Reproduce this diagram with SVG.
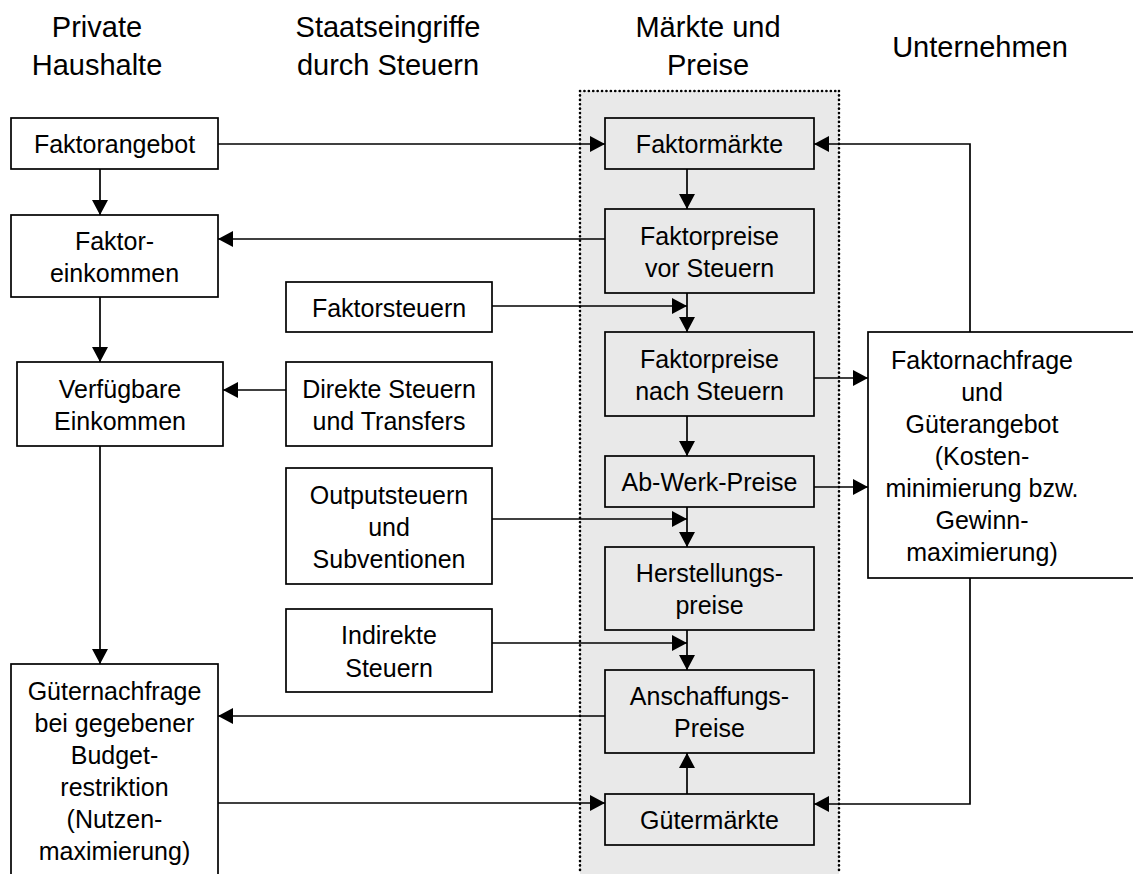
<svg xmlns="http://www.w3.org/2000/svg" width="1133" height="874" viewBox="0 0 1133 874">
<defs>
<marker id="ah" markerWidth="15" markerHeight="16" refX="15" refY="8" orient="auto" markerUnits="userSpaceOnUse">
<path d="M0,0 L15,8 L0,16 Z" fill="#000"/>
</marker>
<style>
.hd{font-family:"Liberation Sans",Arial,sans-serif;font-size:29px;fill:#000;text-anchor:middle}
.t{font-family:"Liberation Sans",Arial,sans-serif;font-size:25px;fill:#000;text-anchor:middle}
.b{fill:#fff;stroke:#000;stroke-width:1.7}
.m{fill:#e9e9e9;stroke:#000;stroke-width:1.7}
.c{fill:none;stroke:#000;stroke-width:1.7;marker-end:url(#ah)}
</style>
</defs>
<rect width="1133" height="874" fill="#fff"/>
<rect x="580" y="91" width="259" height="800" fill="#e9e9e9" stroke="none"/>
<path d="M580,91 H839 M580,91 V874 M839,91 V874" fill="none" stroke="#000" stroke-width="2.6" stroke-linecap="round" stroke-dasharray="0.1 4.3"/>
<g id="headers">
<text class="hd" x="97" y="37">Private</text>
<text class="hd" x="97" y="75">Haushalte</text>
<text class="hd" x="388" y="37">Staatseingriffe</text>
<text class="hd" x="388" y="75">durch Steuern</text>
<text class="hd" x="708" y="37">Märkte und</text>
<text class="hd" x="708" y="75">Preise</text>
<text class="hd" x="980" y="57">Unternehmen</text>
</g>
<g id="connectors">
<path class="c" d="M218,144 H605"/>
<path class="c" d="M100,169 V215"/>
<path class="c" d="M605,239 H218"/>
<path class="c" d="M100,297 V362"/>
<path class="c" d="M286,390 H223"/>
<path class="c" d="M100,446 V664"/>
<path class="c" d="M605,716 H218"/>
<path class="c" d="M218,803 H605"/>
<path class="c" d="M687,169 V209"/>
<path class="c" d="M687,293 V332"/>
<path class="c" d="M492,306 H687"/>
<path class="c" d="M687,416 V456"/>
<path class="c" d="M687,507 V547"/>
<path class="c" d="M492,519 H687"/>
<path class="c" d="M687,630 V670"/>
<path class="c" d="M492,643 H687"/>
<path class="c" d="M687,794 V753"/>
<path class="c" d="M814,378 H868"/>
<path class="c" d="M814,487 H868"/>
<path class="c" d="M970,332 V144 H814"/>
<path class="c" d="M970,578 V804 H814"/>
</g>
<g id="n-faktorangebot"><rect class="b" x="11" y="118" width="207" height="51"/><text class="t" x="114.5" y="153">Faktorangebot</text></g>
<g id="n-faktoreinkommen"><rect class="b" x="11" y="215" width="207" height="82"/><text class="t" x="114.5" y="250">Faktor-</text><text class="t" x="114.5" y="282">einkommen</text></g>
<g id="n-verfuegbare"><rect class="b" x="17" y="362" width="206" height="84"/><text class="t" x="120" y="398">Verfügbare</text><text class="t" x="120" y="430">Einkommen</text></g>
<g id="n-gueternachfrage"><rect class="b" x="11" y="664" width="207" height="216"/>
<text class="t" x="114.5" y="700">Güternachfrage</text><text class="t" x="114.5" y="732">bei gegebener</text><text class="t" x="114.5" y="764">Budget-</text><text class="t" x="114.5" y="796">restriktion</text><text class="t" x="114.5" y="828">(Nutzen-</text><text class="t" x="114.5" y="860">maximierung)</text></g>
<g id="n-faktorsteuern"><rect class="b" x="286" y="282" width="206" height="50"/><text class="t" x="389" y="316.5">Faktorsteuern</text></g>
<g id="n-direkte"><rect class="b" x="286" y="362" width="206" height="84"/><text class="t" x="389" y="398">Direkte Steuern</text><text class="t" x="389" y="430">und Transfers</text></g>
<g id="n-output"><rect class="b" x="286" y="468" width="206" height="116"/><text class="t" x="389" y="503.5">Outputsteuern</text><text class="t" x="389" y="535.5">und</text><text class="t" x="389" y="567.5">Subventionen</text></g>
<g id="n-indirekte"><rect class="b" x="286" y="609" width="206" height="83"/><text class="t" x="389" y="644">Indirekte</text><text class="t" x="389" y="676.5">Steuern</text></g>
<g id="n-faktormaerkte"><rect class="m" x="605" y="118" width="209" height="51"/><text class="t" x="709.5" y="153">Faktormärkte</text></g>
<g id="n-fp-vor"><rect class="m" x="605" y="209" width="209" height="84"/><text class="t" x="709.5" y="244.5">Faktorpreise</text><text class="t" x="709.5" y="276.5">vor Steuern</text></g>
<g id="n-fp-nach"><rect class="m" x="605" y="332" width="209" height="84"/><text class="t" x="709.5" y="367.5">Faktorpreise</text><text class="t" x="709.5" y="399.5">nach Steuern</text></g>
<g id="n-abwerk"><rect class="m" x="605" y="456" width="209" height="51"/><text class="t" x="709.5" y="491">Ab-Werk-Preise</text></g>
<g id="n-herstellung"><rect class="m" x="605" y="547" width="209" height="83"/><text class="t" x="709.5" y="582">Herstellungs-</text><text class="t" x="709.5" y="614">preise</text></g>
<g id="n-anschaffung"><rect class="m" x="605" y="670" width="209" height="83"/><text class="t" x="709.5" y="705">Anschaffungs-</text><text class="t" x="709.5" y="737">Preise</text></g>
<g id="n-guetermaerkte"><rect class="m" x="605" y="794" width="209" height="51"/><text class="t" x="709.5" y="829">Gütermärkte</text></g>
<g id="n-faktornachfrage"><rect class="b" x="868" y="332" width="280" height="246"/>
<text class="t" x="982" y="368.5">Faktornachfrage</text><text class="t" x="982" y="400.5">und</text><text class="t" x="982" y="432.5">Güterangebot</text><text class="t" x="982" y="464.5">(Kosten-</text><text class="t" x="982" y="496.5">minimierung bzw.</text><text class="t" x="982" y="528.5">Gewinn-</text><text class="t" x="982" y="560.5">maximierung)</text></g>
</svg>
